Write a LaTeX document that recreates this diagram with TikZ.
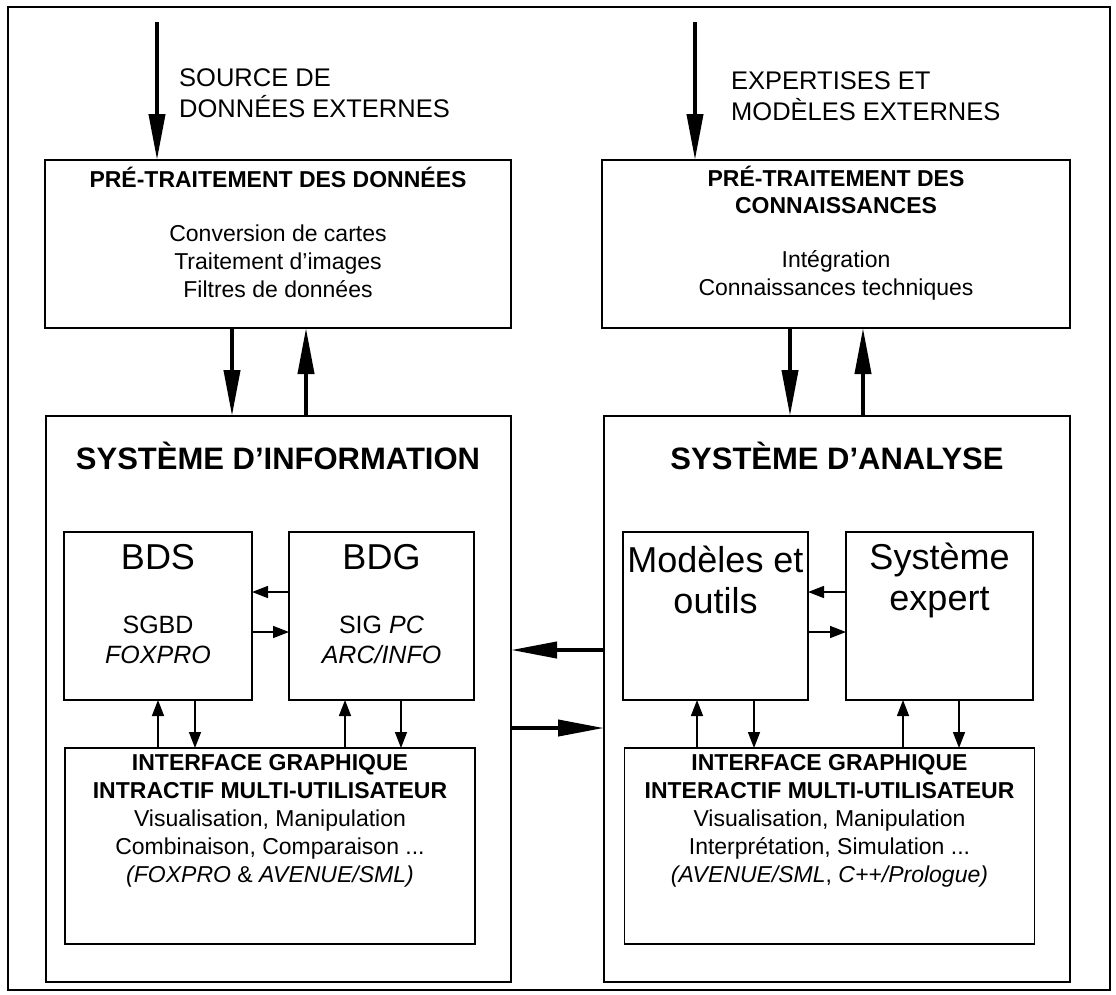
\documentclass[tikz,border=0pt]{standalone}
\usepackage{fontspec}
\setmainfont{Liberation Sans}
\usetikzlibrary{calc, arrows.meta}

\begin{document}
\begin{tikzpicture}[x=1pt, y=-1pt,
    box/.style={draw, line width=1.8pt, inner sep=0pt, outer sep=0pt},
    txt/.style={align=center, inner sep=0pt},
    bigarrow/.style={line width=4pt, -{Triangle[length=46pt, width=16pt]}},
    smallarrow/.style={line width=1.5pt, -{Triangle[length=16pt, width=12pt]}},
    extfont/.style={font=\fontsize{25.5}{31}\selectfont},
    headfont/.style={font=\bfseries\fontsize{23}{27}\selectfont},
    bodyfont/.style={font=\fontsize{23}{28}\selectfont},
    sysfont/.style={font=\bfseries\fontsize{31}{37}\selectfont},
    namefont/.style={font=\fontsize{36}{41}\selectfont},
    subfont/.style={font=\fontsize{25}{30}\selectfont}]
    \useasboundingbox (0,0) rectangle (1116,994);
    \draw[line width=2pt] (8,7) rectangle (1110,990);

    \coordinate (src1) at (157,22);
    \coordinate (src2) at (695,22);

    \node[box, minimum width=466pt, minimum height=168pt] (pre1) at (278,244) {};
    \node[box, minimum width=468pt, minimum height=168pt] (pre2) at (836,244) {};
    \node[box, minimum width=465pt, minimum height=566pt] (si) at (278.5,699) {};
    \node[box, minimum width=466pt, minimum height=566pt] (sa) at (837,699) {};
    \node[box, minimum width=188pt, minimum height=168pt] (bds) at (158,616) {};
    \node[box, minimum width=185pt, minimum height=168pt] (bdg) at (381.5,616) {};
    \node[box, minimum width=185pt, minimum height=168pt] (mod) at (715.5,616) {};
    \node[box, minimum width=187pt, minimum height=168pt] (exp) at (939.5,616) {};
    \node[box, minimum width=410pt, minimum height=196pt] (ig1) at (270,846) {};
    \node[box, minimum width=410pt, minimum height=196pt] (ig2) at (829.5,846) {};

    \node[txt, extfont, align=left, anchor=west] (ext1) at (179,93)
        {SOURCE DE\\DONNÉES EXTERNES};
    \node[txt, extfont, align=left, anchor=west] (ext2) at (731,96)
        {EXPERTISES ET\\MODÈLES EXTERNES};

    \node[txt, headfont] (pre1t) at (278,177) {PRÉ-TRAITEMENT DES DONNÉES};
    \node[txt, bodyfont] (pre1b) at (278,261)
        {Conversion de cartes\\Traitement d'images\\Filtres de données};
    \node[txt, headfont] (pre2t) at (836,190) {PRÉ-TRAITEMENT DES\\CONNAISSANCES};
    \node[txt, bodyfont] (pre2b) at (836,275) {Intégration\\Connaissances techniques};

    \node[txt, sysfont] (sit) at (278,456) {SYSTÈME D'INFORMATION};
    \node[txt, sysfont] (sat) at (837,456) {SYSTÈME D'ANALYSE};

    \node[txt, namefont] (bdsn) at (158,557) {BDS};
    \node[txt, subfont] (bdsl) at (158,640) {SGBD\\\textit{FOXPRO}};
    \node[txt, namefont] (bdgn) at (381.5,557) {BDG};
    \node[txt, subfont] (bdgl) at (381.5,640) {SIG \textit{PC}\\\textit{ARC/INFO}};
    \node[txt, namefont] (modn) at (715.5,580) {Modèles et\\outils};
    \node[txt, namefont] (expn) at (939.5,580) {Système\\expert};

    \node[txt, bodyfont] (ig1t) at (270,821)
        {\textbf{INTERFACE GRAPHIQUE}\\\textbf{INTRACTIF MULTI-UTILISATEUR}\\
         Visualisation, Manipulation\\Combinaison, Comparaison ...\\
         \textit{(FOXPRO} \& \textit{AVENUE/SML)}};
    \node[txt, bodyfont] (ig2t) at (829.5,821)
        {\textbf{INTERFACE GRAPHIQUE}\\\textbf{INTERACTIF MULTI-UTILISATEUR}\\
         Visualisation, Manipulation\\Interprétation, Simulation ...\\
         \textit{(AVENUE/SML}, \textit{C++/Prologue)}};

    \draw[bigarrow] (src1) -- (src1 |- pre1.north);
    \draw[bigarrow] (src2) -- (src2 |- pre2.north);

    \draw[bigarrow] ([xshift=-46pt]pre1.south) -- ([xshift=-46pt]pre1.south |- si.north);
    \draw[bigarrow] ([xshift=28pt]pre1.south |- si.north) -- ([xshift=28pt]pre1.south);
    \draw[bigarrow] ([xshift=-46pt]pre2.south) -- ([xshift=-46pt]pre2.south |- sa.north);
    \draw[bigarrow] ([xshift=27pt]pre2.south |- sa.north) -- ([xshift=27pt]pre2.south);

    \draw[bigarrow] ([yshift=49pt]sa.west) -- ([yshift=49pt]si.east);
    \draw[bigarrow] ([yshift=-29pt]si.east) -- ([yshift=-29pt]sa.west);

    \draw[smallarrow] ([yshift=24pt]bdg.west) -- ([yshift=24pt]bds.east);
    \draw[smallarrow] ([yshift=-16pt]bds.east) -- ([yshift=-16pt]bdg.west);
    \draw[smallarrow] ([yshift=24pt]exp.west) -- ([yshift=24pt]mod.east);
    \draw[smallarrow] ([yshift=-16pt]mod.east) -- ([yshift=-16pt]exp.west);

    \draw[smallarrow] (bds.south |- ig1.north) -- (bds.south);
    \draw[smallarrow] ([xshift=37pt]bds.south) -- ([xshift=37pt]bds.south |- ig1.north);
    \draw[smallarrow] ([xshift=-36.5pt]bdg.south |- ig1.north) -- ([xshift=-36.5pt]bdg.south);
    \draw[smallarrow] ([xshift=19.5pt]bdg.south) -- ([xshift=19.5pt]bdg.south |- ig1.north);
    \draw[smallarrow] ([xshift=-18.5pt]mod.south |- ig2.north) -- ([xshift=-18.5pt]mod.south);
    \draw[smallarrow] ([xshift=38.5pt]mod.south) -- ([xshift=38.5pt]mod.south |- ig2.north);
    \draw[smallarrow] ([xshift=-36.5pt]exp.south |- ig2.north) -- ([xshift=-36.5pt]exp.south);
    \draw[smallarrow] ([xshift=19.5pt]exp.south) -- ([xshift=19.5pt]exp.south |- ig2.north);
\end{tikzpicture}
\end{document}
